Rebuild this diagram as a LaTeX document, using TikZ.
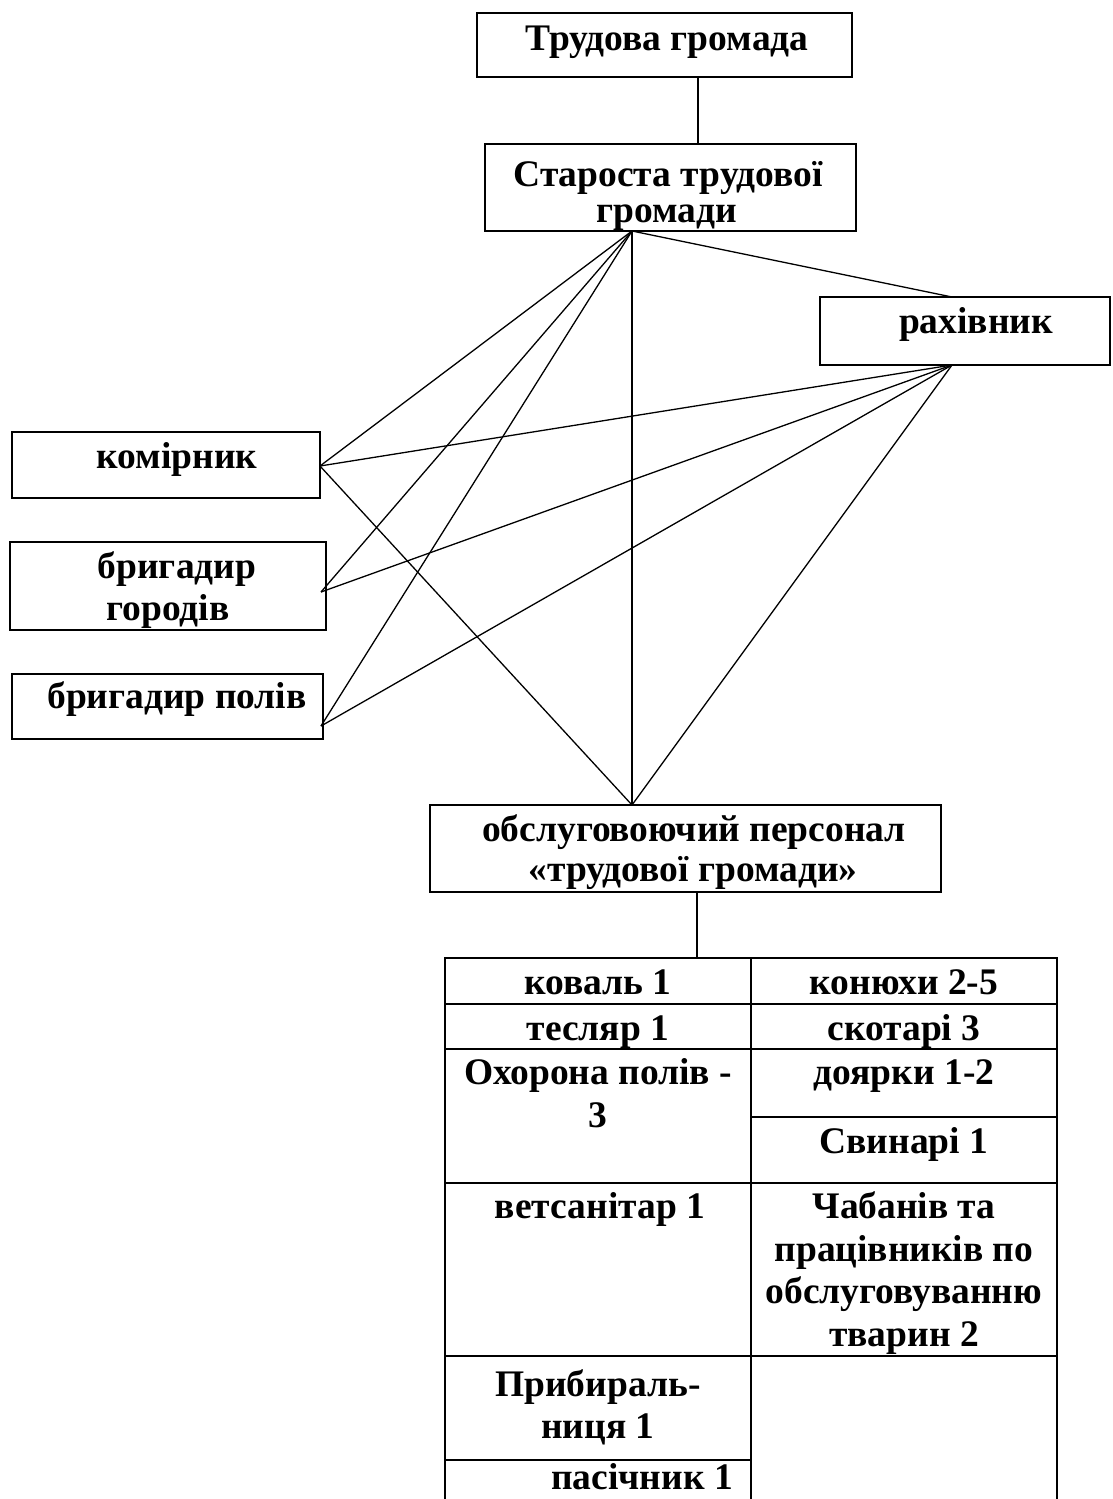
\documentclass[tikz,border=0pt]{standalone}
\usepackage{fontspec}
\setmainfont{Liberation Serif}
\begin{document}
\begin{tikzpicture}[x=1pt,y=-1pt,
  box/.style={draw, line width=1.8pt, inner sep=0pt},
  cell/.style={draw, line width=1.8pt, inner sep=0pt, minimum width=306pt},
  lbl/.style={font=\fontsize{37.5}{44}\selectfont\bfseries, inner sep=0pt, anchor=base},
  conn/.style={line width=1.3pt}]
\useasboundingbox (0,0) rectangle (1112,1499);
\clip (0,0) rectangle (1112,1499);
% boxes
\node[box, minimum width=375pt, minimum height=64pt] (top) at (664.5,45) {};
\node[box, minimum width=371pt, minimum height=87pt] (star) at (670.5,187.5) {};
\node[box, minimum width=290pt, minimum height=68pt] (rakh) at (965,331) {};
\node[box, minimum width=308pt, minimum height=66pt] (kom) at (166,465) {};
\node[box, minimum width=316pt, minimum height=88pt] (hor) at (168,586) {};
\node[box, minimum width=311pt, minimum height=65pt] (pol) at (167.5,706.5) {};
\node[box, minimum width=511pt, minimum height=87pt] (obs) at (685.5,848.5) {};
% table cells
\node[cell, minimum height=46pt] (c11) at (598,981) {};
\node[cell, minimum height=46pt] (c12) at (904,981) {};
\node[cell, minimum height=45pt] (c21) at (598,1026.5) {};
\node[cell, minimum height=45pt] (c22) at (904,1026.5) {};
\node[cell, minimum height=134pt] (c31) at (598,1116) {};
\node[cell, minimum height=68pt] (c32) at (904,1083) {};
\node[cell, minimum height=66pt] (c33) at (904,1150) {};
\node[cell, minimum height=173pt] (c41) at (598,1269.5) {};
\node[cell, minimum height=173pt] (c42) at (904,1269.5) {};
\node[cell, minimum height=104pt] (c51) at (598,1408) {};
\node[cell, minimum height=164pt] (c52) at (904,1438) {};
\node[cell, minimum height=60pt] (c61) at (598,1490) {};
% texts
\node[lbl] (t1) at (667,50) {Трудова громада};
\node[lbl] (t2a) at (668,186) {Староста трудової};
\node[lbl] (t2b) at (667,222) {громади};
\node[lbl] (t3) at (976,333) {рахівник};
\node[lbl] (t4) at (177,468) {комірник};
\node[lbl] (t5a) at (177,578) {бригадир};
\node[lbl] (t5b) at (168,620) {городів};
\node[lbl] (t6) at (177,708) {бригадир полів};
\node[lbl] (t7a) at (694,841) {обслуговоючий персонал};
\node[lbl] (t7b) at (693,881) {«трудової громади»};
\node[lbl] (k11) at (598,994) {коваль 1};
\node[lbl] (k12) at (904,994) {конюхи 2-5};
\node[lbl] (k21) at (598,1040) {тесляр 1};
\node[lbl] (k22) at (904,1040) {скотарі 3};
\node[lbl] (k31a) at (598,1084) {Охорона полів -};
\node[lbl] (k31b) at (598,1127) {3};
\node[lbl] (k32) at (904,1084) {доярки 1-2};
\node[lbl] (k33) at (904,1153) {Свинарі 1};
\node[lbl] (k41) at (600,1218) {ветсанітар 1};
\node[lbl] (k42a) at (904,1218) {Чабанів та};
\node[lbl] (k42b) at (904,1261) {працівників по};
\node[lbl] (k42c) at (904,1303) {обслуговуванню};
\node[lbl] (k42d) at (904,1346) {тварин 2};
\node[lbl] (k51a) at (598,1396) {Прибираль-};
\node[lbl] (k51b) at (598,1438) {ниця 1};
\node[lbl] (k61) at (642,1489) {пасічник 1};
% hub coordinates
\coordinate (th) at (698,77);
\coordinate (sht) at (698,144);
\coordinate (sh) at (632,231);
\coordinate (rt) at (952,297);
\coordinate (rb) at (952,365);
\coordinate (kp) at (320,466);
\coordinate (hp) at (321,592);
\coordinate (pp) at (321,726);
\coordinate (ot) at (632,805);
\coordinate (ob) at (697,892);
\coordinate (tt) at (697,958);
% connectors
\draw[conn] (th) -- (sht);
\draw[conn] (sh) -- (rt);
\draw[conn] (sh) -- (kp);
\draw[conn] (sh) -- (hp);
\draw[conn] (sh) -- (pp);
\draw[conn] (sh) -- (ot);
\draw[conn] (rb) -- (kp);
\draw[conn] (rb) -- (hp);
\draw[conn] (rb) -- (pp);
\draw[conn] (rb) -- (ot);
\draw[conn] (kp) -- (ot);
\draw[conn] (ob) -- (tt);
\end{tikzpicture}
\end{document}
